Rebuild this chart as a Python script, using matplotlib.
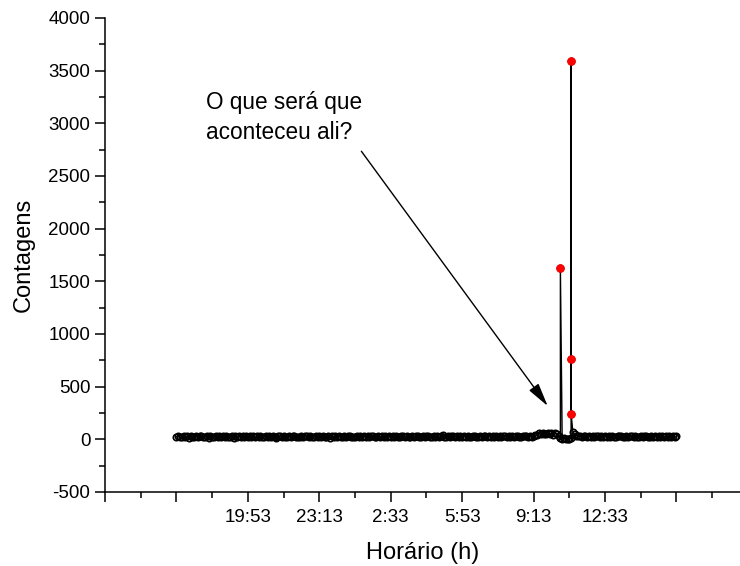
import numpy as np
import matplotlib
matplotlib.use("Agg")
import matplotlib.pyplot as plt
from matplotlib.ticker import FixedLocator, MultipleLocator

plt.rcParams['font.family'] = ['Liberation Sans', 'DejaVu Sans']
plt.rcParams['axes.unicode_minus'] = False

# ---- data -------------------------------------------------------------
# time axis in hours (16:33 day 1 ... 15:53 day 2), one sample every 5 min
start_h = 16.55
step_h = 5 / 60.0
baseline_counts = [
    24, 31, 19, 25, 33, 20, 28, 17, 30, 25, 22, 34, 18, 27, 31, 21, 25, 32, 17, 28,
    25, 20, 33, 22, 28, 18, 30, 25, 35, 20, 23, 29, 17, 32, 25, 30, 19, 28, 22, 33,
    20, 28, 25, 32, 18, 30, 23, 36, 20, 25, 28, 18, 33, 22, 30, 25, 17, 32, 28, 20,
    30, 22, 25, 34, 18, 28, 32, 20, 25, 23, 33, 18, 30, 28, 22, 36, 20, 25, 30, 18,
    28, 22, 32, 20, 25, 30, 17, 33, 22, 28, 20, 32, 25, 18, 30, 22, 34, 28, 20, 25,
    22, 32, 18, 28, 25, 33, 20, 30, 22, 28, 35, 18, 25, 32, 22, 28, 20, 30, 25, 33,
    18, 28, 22, 32, 25, 20, 34, 28, 22, 30, 18, 25, 33, 22, 28, 32, 20, 25, 30, 22,
    28, 33, 20, 25, 32, 22, 30, 18, 28, 38, 25, 22, 32, 20, 28, 30, 25, 34, 22, 28,
    20, 30, 25, 32, 22, 18, 28, 33, 25, 22, 30, 20, 28, 32, 25, 36, 22, 28, 20, 30,
    25, 32, 22, 28, 34, 20, 30, 25, 33, 22, 28, 32, 25, 20, 30, 28, 34, 22, 32, 25,
    33, 38, 45, 58, 50, 62, 46, 55, 64, 48, 57, 42, 60, 50, 36, 8, 2, 14, 0, 6,
    3, 10, 66, 48, 36, 30, 27, 22, 33, 28, 20, 32, 25, 30, 18, 28, 33, 22, 30, 25,
    32, 20, 28, 22, 34, 25, 18, 30, 28, 33, 22, 25, 32, 20, 28, 30, 22, 35, 25, 20,
    30, 22, 28, 33, 18, 25, 32, 22, 28, 20, 30, 25, 34, 22, 28, 18, 32, 25, 30, 22, 28,
]
# anomalous readings (highlighted in red)
spike_times = [34.4667, 34.9667, 34.9667, 34.9667]
spike_counts = [1625, 3590, 760, 245]

# x ticks (hours) and their labels
xtick_hours = [13.217, 16.55, 19.883, 23.217, 26.55, 29.883, 33.217, 36.55, 39.883]
xtick_labels = ['', '', '19:53', '23:13', '2:33', '5:53', '9:13', '12:33', '']

annotation_text = 'O que será que\naconteceu ali?'

# ---- build series -----------------------------------------------------
base_t = start_h + step_h * np.arange(len(baseline_counts))
t_all = np.concatenate([base_t, spike_times])
c_all = np.concatenate([baseline_counts, spike_counts])
order = np.argsort(t_all, kind='stable')
t_all = t_all[order]
c_all = c_all[order]

# ---- figure -----------------------------------------------------------
fig = plt.figure(figsize=(7.40, 5.66), dpi=100)
ax = fig.add_axes([105 / 740, (566 - 492) / 566, (740 - 105) / 740, (492 - 18) / 566])

ax.plot(t_all, c_all, color='black', lw=1.0, marker='o', ms=4.6,
        mfc='none', mec='black', mew=1.2, zorder=2)
ax.plot(spike_times, spike_counts, ls='none', marker='o', ms=6.2, mew=0,
        color='#ff0000', zorder=3)

ax.set_xlim(13.217, 13.217 + 635 / 21.43)
ax.set_ylim(-500, 4000)

for s in ['top', 'right']:
    ax.spines[s].set_visible(False)
for s in ['left', 'bottom']:
    ax.spines[s].set_linewidth(1.1)

ax.xaxis.set_major_locator(FixedLocator(xtick_hours))
ax.set_xticklabels(xtick_labels)
ax.xaxis.set_minor_locator(FixedLocator([h + 1.6667 for h in xtick_hours]))
ax.yaxis.set_major_locator(MultipleLocator(500))
ax.yaxis.set_minor_locator(MultipleLocator(250))
ax.tick_params(which='major', direction='out', length=7.5, width=1.1,
               labelsize=13.5, pad=3)
ax.tick_params(which='minor', direction='out', length=4, width=1.1)
ax.tick_params(axis='x', which='major', pad=5)

ax.set_xlabel('Horário (h)', fontsize=17, labelpad=11)
ax.set_ylabel('Contagens', fontsize=17, labelpad=10)

ax.text(17.95, 3305, annotation_text, fontsize=16.3, ha='left', va='top',
        linespacing=1.35)
ax.annotate('', xy=(33.876, 316), xytext=(25.18, 2735),
            arrowprops=dict(arrowstyle='-|>,head_length=0.9,head_width=0.22',
                            color='black', lw=1.0,
                            mutation_scale=16, shrinkA=0, shrinkB=0))

fig.savefig('out.png', dpi=100)
